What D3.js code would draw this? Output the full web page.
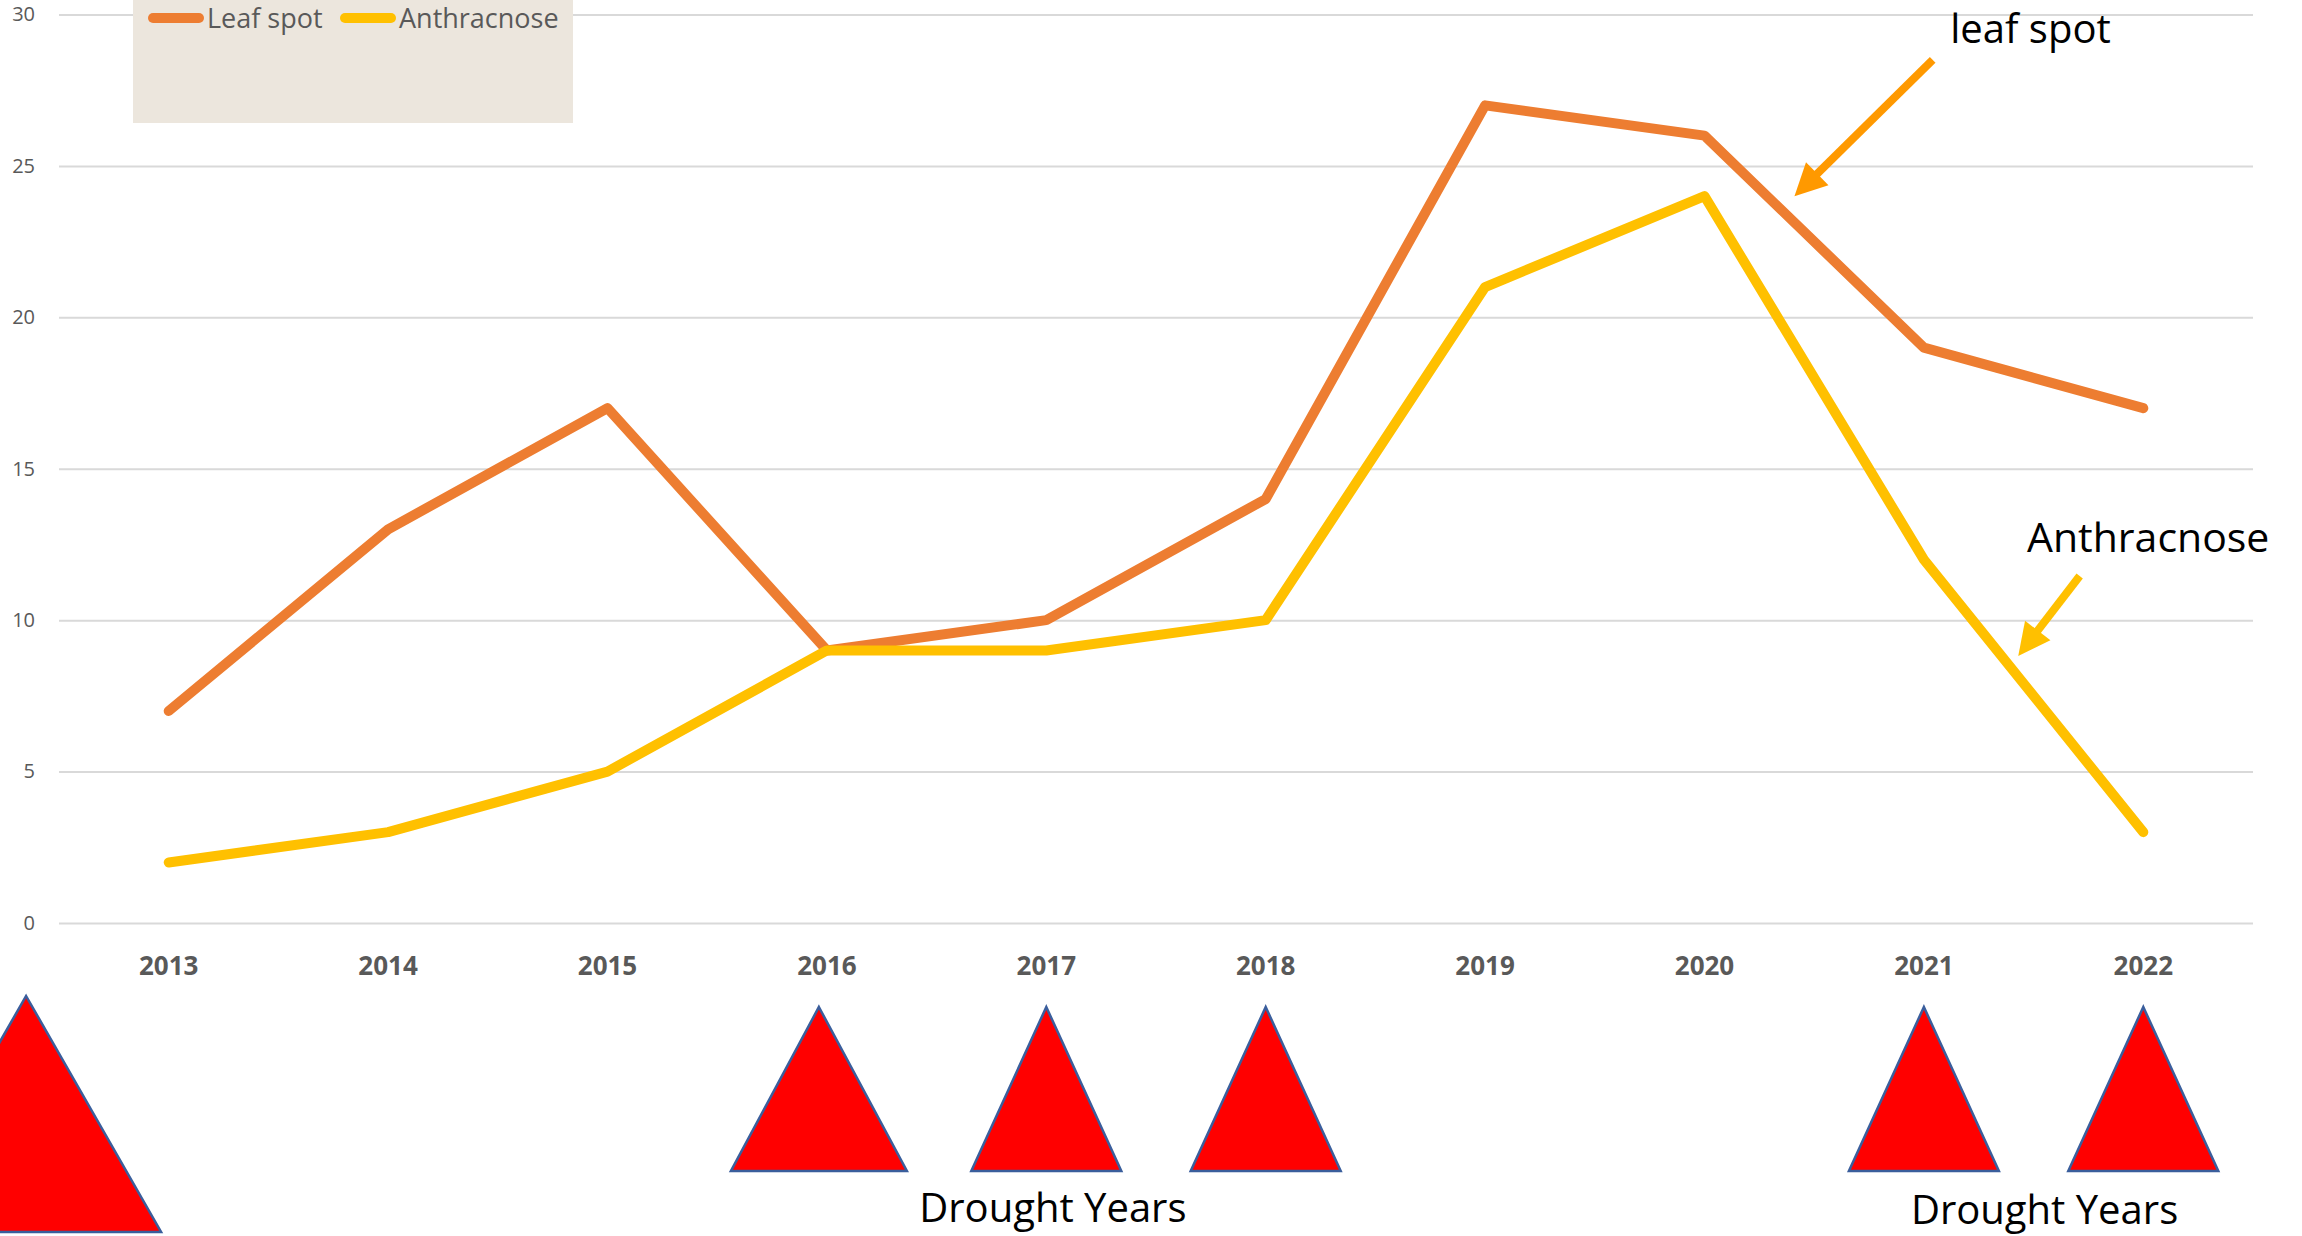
<!DOCTYPE html>
<html>
<head>
<meta charset="utf-8">
<script src="https://cdn.jsdelivr.net/npm/d3@7"></script>
<style>
  body { margin: 0; background: #fff; }
  svg { display: block; }
</style>
</head>
<body>
<div id="chart"></div>
<script>
const years = [2013, 2014, 2015, 2016, 2017, 2018, 2019, 2020, 2021, 2022];
const leafSpot = [7, 13, 17, 9, 10, 14, 27, 26, 19, 17];
const anthracnose = [2, 3, 5, 9, 9, 10, 21, 24, 12, 3];
const yTicks = [0, 5, 10, 15, 20, 25, 30];
const droughtYears = [2016, 2017, 2018, 2021, 2022];
const seriesNames = ["Leaf spot", "Anthracnose"];

(function (d3) {
    "use strict";

    const width = 2302;
    const height = 1236;
    const left = 59, right = 2253, top = 14.5, bottom = 923;
    const font = "'Open Sans', 'Liberation Sans', sans-serif";
    const gray = "#595959";
    const colors = ["#ED7D31", "#FFC000"];

    const svg = d3.select("#chart")
        .append("svg")
            .attr("width", width)
            .attr("height", height);

    const x = d3.scaleBand().domain(years).range([left, right]).padding(0);
    const cx = d => x(d) + x.bandwidth() / 2;
    // fractional years, for the annotations
    const xr = d3.scaleLinear().domain([years[0], years[years.length - 1]])
        .range([cx(years[0]), cx(years[years.length - 1])]);
    const y = d3.scaleLinear().domain([0, 30]).range([bottom, top]);

    // y axis + gridlines
    const yAxis = svg.append("g")
        .attr("transform", `translate(${left},0)`)
        .call(d3.axisLeft(y).tickValues(yTicks).tickSize(-(right - left)).tickPadding(24));
    yAxis.select(".domain").remove();
    yAxis.selectAll(".tick line").attr("stroke", "#D9D9D9").attr("stroke-width", 2);
    yAxis.selectAll(".tick text")
        .attr("fill", gray)
        .style("font-family", font)
        .style("font-size", "20px");

    // x axis labels
    const xAxis = svg.append("g")
        .attr("transform", `translate(0,${bottom})`)
        .call(d3.axisBottom(x).tickSize(0));
    xAxis.select(".domain").remove();
    xAxis.selectAll(".tick text")
        .attr("y", 52)
        .attr("dy", 0)
        .attr("fill", gray)
        .style("font-family", font)
        .style("font-size", "26px")
        .style("font-weight", "bold");

    // legend
    const legend = svg.append("g").attr("class", "legend");
    legend.append("rect")
        .attr("x", 133).attr("y", 0)
        .attr("width", 440).attr("height", 123)
        .attr("fill", "#ECE6DD");
    const legendX = [148, 340];
    seriesNames.forEach((name, i) => {
        legend.append("line")
            .attr("x1", legendX[i] + 5).attr("x2", legendX[i] + 51)
            .attr("y1", 18).attr("y2", 18)
            .attr("stroke", colors[i])
            .attr("stroke-width", 10)
            .attr("stroke-linecap", "round");
        legend.append("text")
            .attr("x", legendX[i] + 59)
            .attr("y", 28)
            .attr("fill", gray)
            .style("font-family", font)
            .style("font-size", "27px")
            .text(name);
    });

    // series lines
    const lineGenerator = d3.line()
        .x((d, i) => cx(years[i]))
        .y(d => y(d));

    [leafSpot, anthracnose].forEach((values, i) => {
        svg.append("path")
            .attr("class", "series")
            .attr("d", lineGenerator(values))
            .attr("fill", "none")
            .attr("stroke", colors[i])
            .attr("stroke-width", 10)
            .attr("stroke-linejoin", "round")
            .attr("stroke-linecap", "round");
    });

    // annotations (in data units)
    const arrow = function (from, to, color) {
        const x1 = xr(from[0]), y1 = y(from[1]);
        const x2 = xr(to[0]), y2 = y(to[1]);
        const dx = x2 - x1, dy = y2 - y1;
        const len = Math.sqrt(dx * dx + dy * dy);
        const ux = dx / len, uy = dy / len;
        const headLen = 32, headHalf = 16;
        const bx = x2 - ux * headLen, by = y2 - uy * headLen;
        svg.append("line")
            .attr("x1", x1).attr("y1", y1)
            .attr("x2", bx + ux * 2).attr("y2", by + uy * 2)
            .attr("stroke", color)
            .attr("stroke-width", 8);
        svg.append("path")
            .attr("d", d3.line()([
                [x2, y2],
                [bx - uy * headHalf, by + ux * headHalf],
                [bx + uy * headHalf, by - ux * headHalf]
            ]) + "Z")
            .attr("fill", color);
    };

    arrow([2021.04, 28.5], [2020.41, 24.0], "#FF9900");
    arrow([2021.71, 11.46], [2021.43, 8.82], "#FFC000");

    svg.append("text")
        .attr("x", xr(2021.12)).attr("y", y(29.05))
        .attr("fill", "#000")
        .style("font-family", font)
        .style("font-size", "40px")
        .text("leaf spot");

    svg.append("text")
        .attr("x", xr(2021.47)).attr("y", y(12.25))
        .attr("fill", "#000")
        .style("font-family", font)
        .style("font-size", "41px")
        .text("Anthracnose");

    // drought markers below the axis
    const triangle = function (apexX, apexY, baseY, half) {
        svg.append("path")
            .attr("d", d3.line()([[apexX, apexY], [apexX + half, baseY], [apexX - half, baseY]]) + "Z")
            .attr("fill", "#FF0000")
            .attr("stroke", "#3A5E9C")
            .attr("stroke-width", 2.5)
            .attr("stroke-linejoin", "miter");
    };

    triangle(xr(2012.35), 996, 1232, 135);
    droughtYears.forEach(d => {
        triangle(cx(d) - (d === 2016 ? 8 : 0), 1007, 1171, d === 2016 ? 88 : 75);
    });

    svg.append("text")
        .attr("x", xr(2017.03)).attr("y", 1222)
        .attr("text-anchor", "middle")
        .attr("fill", "#000")
        .style("font-family", font)
        .style("font-size", "40px")
        .text("Drought Years");

    svg.append("text")
        .attr("x", xr(2021.55)).attr("y", 1224)
        .attr("text-anchor", "middle")
        .attr("fill", "#000")
        .style("font-family", font)
        .style("font-size", "40px")
        .text("Drought Years");
})(d3);
</script>
</body>
</html>
